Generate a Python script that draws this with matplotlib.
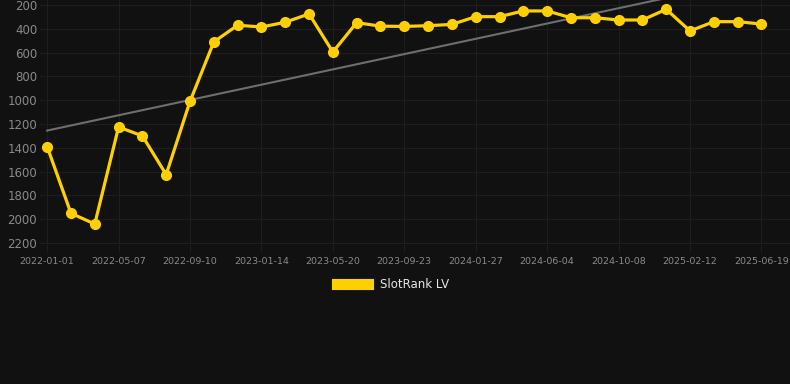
import matplotlib
matplotlib.use("Agg")
import matplotlib.pyplot as plt
import numpy as np

dates = ["2022-01-01", "", "", "2022-05-07", "", "", "2022-09-10", "", "", "2023-01-14",
         "", "", "2023-05-20", "", "", "2023-09-23", "", "", "2024-01-27", "", "",
         "2024-06-04", "", "", "2024-10-08", "", "", "2025-02-12", "", "", "2025-06-19"]
rank = [1390, 1950, 2040, 1225, 1300, 1625, 1010, 510, 370, 385, 345, 275, 595, 348, 378,
        380, 374, 363, 298, 298, 250, 250, 307, 307, 326, 326, 236, 418, 340, 340, 360]
trend = [1255, -30]
yticks = [200, 400, 600, 800, 1000, 1200, 1400, 1600, 1800, 2000, 2200]
series_name = "SlotRank LV"

bg = "#111111"
fig = plt.figure(figsize=(7.9, 3.84), dpi=100, facecolor=bg)
ax = fig.add_axes([40/790, 1 - 244/384, 750/790, 244/384])
ax.set_facecolor(bg)

x = np.arange(len(rank))
ax.plot([x[0], x[-1]], trend, color="#6e6e6e", lw=1.5, zorder=2)
ax.plot(x, rank, color="#FFD000", lw=2.3, marker="o", markersize=7, zorder=3,
        label=series_name)

ax.set_ylim(2208, 158)
ax.set_xlim(-0.3, 31.2)
ax.set_yticks(yticks)
ax.set_yticklabels([str(v) for v in yticks])
tick_idx = [i for i, d in enumerate(dates) if d]
ax.set_xticks(tick_idx)
ax.set_xticklabels([dates[i] for i in tick_idx])
ax.grid(True, color="#1e1e1e", lw=0.8, zorder=0)
for s in ax.spines.values():
    s.set_visible(False)
ax.tick_params(axis="y", colors="#8a8a8a", labelsize=8.5, length=0, pad=2)
ax.tick_params(axis="x", colors="#8a8a8a", labelsize=6.8, length=6, width=0.8,
               color="#1e1e1e", pad=3)
ax.axhline(2208, color="#262626", lw=1, zorder=1)

leg = fig.legend(loc="center", bbox_to_anchor=(393/790, 1 - 285/384), frameon=False,
                 handlelength=2.6, handleheight=0.9, handletextpad=1.0, fontsize=8.5)
leg.legend_handles[0].set_marker("")
leg.legend_handles[0].set_linewidth(8)
for t in leg.get_texts():
    t.set_color("#e6e6e6")

fig.savefig("out.png", dpi=100, facecolor=bg)
